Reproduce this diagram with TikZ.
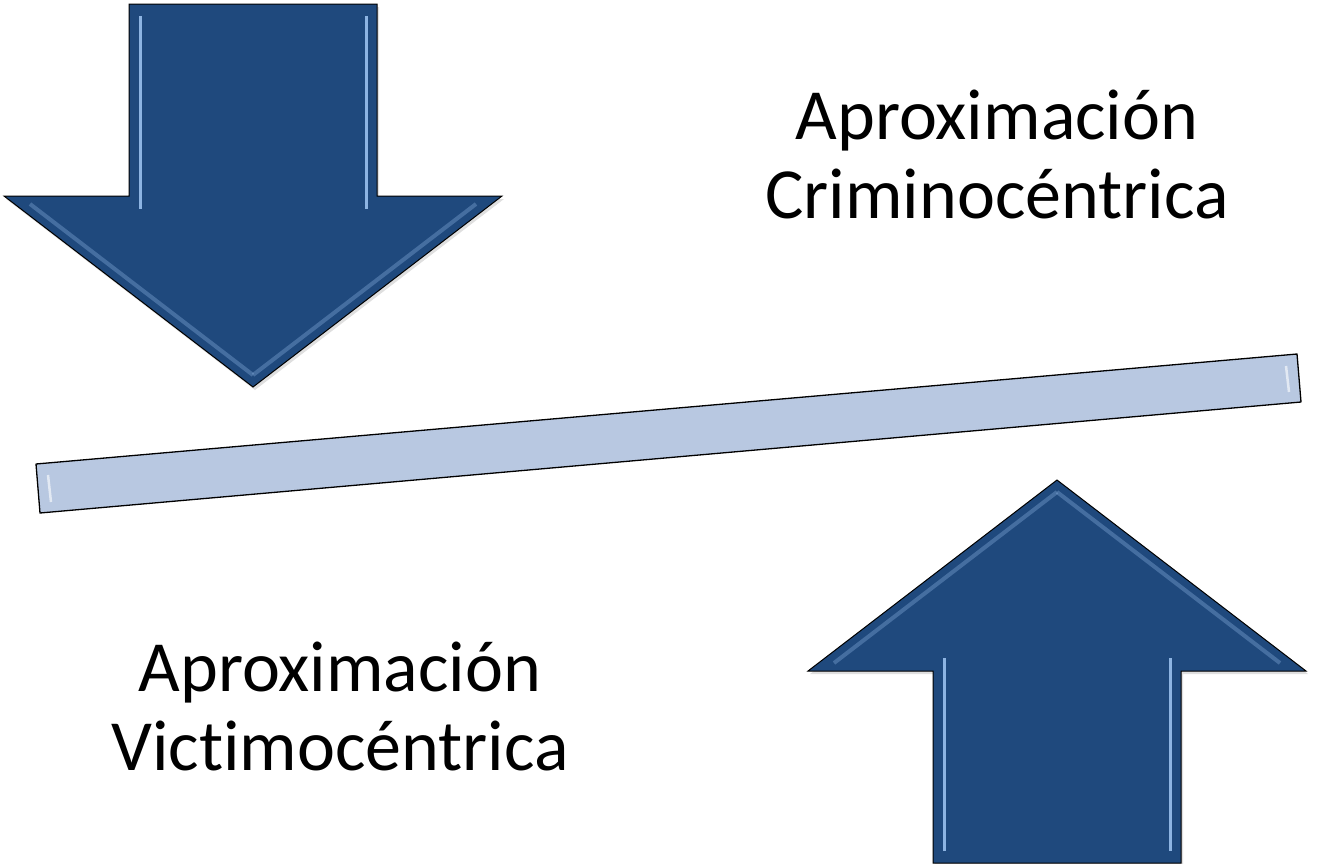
\documentclass[tikz,border=0pt]{standalone}
\usepackage{fontspec}
\setmainfont{Carlito}[Ligatures=NoCommon]
\usetikzlibrary{shadows}

\definecolor{arrowblue}{HTML}{1F497D}
\definecolor{barblue}{HTML}{B8C8E1}
\definecolor{glint}{HTML}{8DB4E2}

\begin{document}
\begin{tikzpicture}[x=1pt, y=-1pt,
  blockarrow/.style={fill=arrowblue, draw=black, line width=1pt, line join=miter,
    drop shadow={opacity=0.25, shadow xshift=2pt, shadow yshift=-3pt}},
  bevel/.style={glint, line width=3pt},
  beam/.style={fill=barblue, draw=black, line width=1.3pt, line join=round},
  label/.style={font=\fontsize{72}{79}\selectfont, align=center, inner sep=0pt, anchor=base}]

\useasboundingbox (0,0) rectangle (1319,863);

% Controls
\def\headhalf{249}
\def\shafthalf{124}
\def\headlen{191}
\def\arrowlen{383}

% #1 = x of tip, #2 = y of tip, #3 = 1 points down, -1 points up
\newcommand{\drawBlockArrow}[3]{%
  \begin{scope}[shift={(#1,#2)}, yscale=#3]
    \draw[blockarrow] (0,0) -- (-\headhalf,-\headlen) -- (-\shafthalf,-\headlen)
      -- (-\shafthalf,-\arrowlen) -- (\shafthalf,-\arrowlen) -- (\shafthalf,-\headlen)
      -- (\headhalf,-\headlen) -- cycle;
    % bevel glints on the shaft and the head
    \draw[bevel] (-\shafthalf+11,-\arrowlen+12) -- (-\shafthalf+11,-\headlen+13);
    \draw[bevel] (\shafthalf-11,-\arrowlen+12) -- (\shafthalf-11,-\headlen+13);
    \draw[bevel, opacity=0.35, line width=4pt] (0,-12) -- (-\headhalf+26,-\headlen+8);
    \draw[bevel, opacity=0.35, line width=4pt] (0,-12) -- (\headhalf-26,-\headlen+8);
  \end{scope}
}

% The beam
\coordinate (beamNW) at (36,464);
\coordinate (beamNE) at (1297,354);
\coordinate (beamSE) at (1301,402);
\coordinate (beamSW) at (40,513);
\draw[beam] (beamNW) -- (beamNE) -- (beamSE) -- (beamSW) -- cycle;
\draw[white, opacity=0.6, line width=2.5pt] (48,475) -- (51,502);
\draw[white, opacity=0.6, line width=2.5pt] (1286,366) -- (1289,392);

% Arrows
\drawBlockArrow{253}{387}{1}   % pushing down
\drawBlockArrow{1057}{480}{-1} % pushing up

% Labels (anchored on the last line)
\node[label] (crimino) at (997,218) {Aproximación\\Criminocéntrica};
\node[label] (victimo) at (340,770) {Aproximación\\Victimocéntrica};

\end{tikzpicture}
\end{document}
